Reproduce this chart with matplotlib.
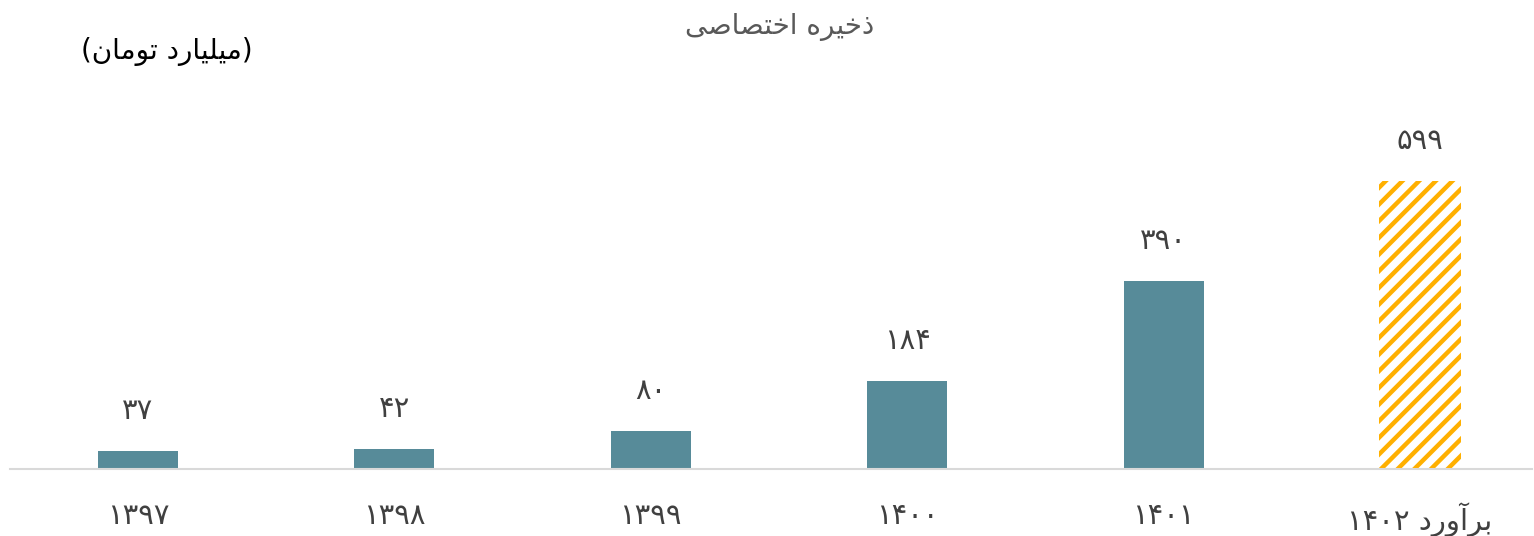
import matplotlib
matplotlib.use('Agg')
import matplotlib.pyplot as plt

# Persian text has to be shaped and put in visual order by hand
FORMS = {
    'ا': ('\uFE8D', '\uFE8E'),
    'آ': ('\uFE81', '\uFE82'),
    'ب': ('\uFE8F', '\uFE90', '\uFE91', '\uFE92'),
    'ت': ('\uFE95', '\uFE96', '\uFE97', '\uFE98'),
    'خ': ('\uFEA5', '\uFEA6', '\uFEA7', '\uFEA8'),
    'د': ('\uFEA9', '\uFEAA'),
    'ذ': ('\uFEAB', '\uFEAC'),
    'ر': ('\uFEAD', '\uFEAE'),
    'ص': ('\uFEB9', '\uFEBA', '\uFEBB', '\uFEBC'),
    'ل': ('\uFEDD', '\uFEDE', '\uFEDF', '\uFEE0'),
    'م': ('\uFEE1', '\uFEE2', '\uFEE3', '\uFEE4'),
    'ن': ('\uFEE5', '\uFEE6', '\uFEE7', '\uFEE8'),
    'ه': ('\uFEE9', '\uFEEA', '\uFEEB', '\uFEEC'),
    'و': ('\uFEED', '\uFEEE'),
    'ی': ('\uFEEF', '\uFEF0', '\uFEF3', '\uFEF4'),
}
DIGITS = '۰۱۲۳۴۵۶۷۸۹'


def fa(text):
    shaped = []
    for i, ch in enumerate(text):
        if ch not in FORMS:
            shaped.append(ch)
            continue
        prev = text[i - 1] if i > 0 else ''
        nxt = text[i + 1] if i + 1 < len(text) else ''
        join_prev = prev in FORMS and len(FORMS[prev]) == 4
        join_next = len(FORMS[ch]) == 4 and nxt in FORMS
        f = FORMS[ch]
        if join_prev and join_next:
            shaped.append(f[3])
        elif join_prev:
            shaped.append(f[1])
        elif join_next:
            shaped.append(f[2])
        else:
            shaped.append(f[0])
    out = ''.join(reversed(shaped))
    # digit runs stay left to right, brackets get mirrored
    res, run = '', ''
    for ch in out:
        if ch in DIGITS:
            run += ch
        else:
            res += run[::-1]
            run = ''
            res += {'(': ')', ')': '('}.get(ch, ch)
    res += run[::-1]
    return res


def fa_num(v):
    return ''.join(DIGITS[int(d)] for d in str(v))


years = ['۱۳۹۷', '۱۳۹۸', '۱۳۹۹', '۱۴۰۰', '۱۴۰۱', 'برآورد ۱۴۰۲']
values = [37, 42, 80, 184, 390, 599]
title = 'ذخیره اختصاصی'
unit = '(میلیارد تومان)'

plt.rcParams['font.family'] = ['DejaVu Sans']
plt.rcParams['hatch.linewidth'] = 3.2

fig = plt.figure(figsize=(15.34, 5.36), dpi=100)
ax = fig.add_axes([10 / 1534, 67 / 536, 1522 / 1534, 369 / 536])

x = list(range(len(values)))
bars = ax.bar(x[:-1], values[:-1], width=0.312, color='#578B99')
ax.bar(x[-1], values[-1], width=0.32, color='white', edgecolor='#FFB000',
       linewidth=0, hatch='//')

for xi, v in zip(x, values):
    ax.annotate(fa_num(v), (xi, v), xytext=(0, 40), textcoords='offset pixels',
                ha='center', va='center', fontsize=21, color='#404040')

ax.set_xlim(-0.499, 5.437)
ax.set_ylim(0, 369 / 0.4808)
ax.set_xticks(x)
ax.set_xticklabels([fa(y) for y in years], fontsize=21, color='#404040')
ax.tick_params(axis='x', length=0, pad=24)
ax.set_yticks([])
for side in ['top', 'right', 'left']:
    ax.spines[side].set_visible(False)
ax.spines['bottom'].set_color('#D9D9D9')
ax.spines['bottom'].set_linewidth(1.5)

fig.text(780 / 1534, 1 - 27 / 536, fa(title), ha='center', va='center',
         fontsize=20, color='#595959')
fig.text(167 / 1534, 1 - 52 / 536, fa(unit), ha='center', va='center',
         fontsize=20, color='black')

fig.savefig('out.png', dpi=100)
